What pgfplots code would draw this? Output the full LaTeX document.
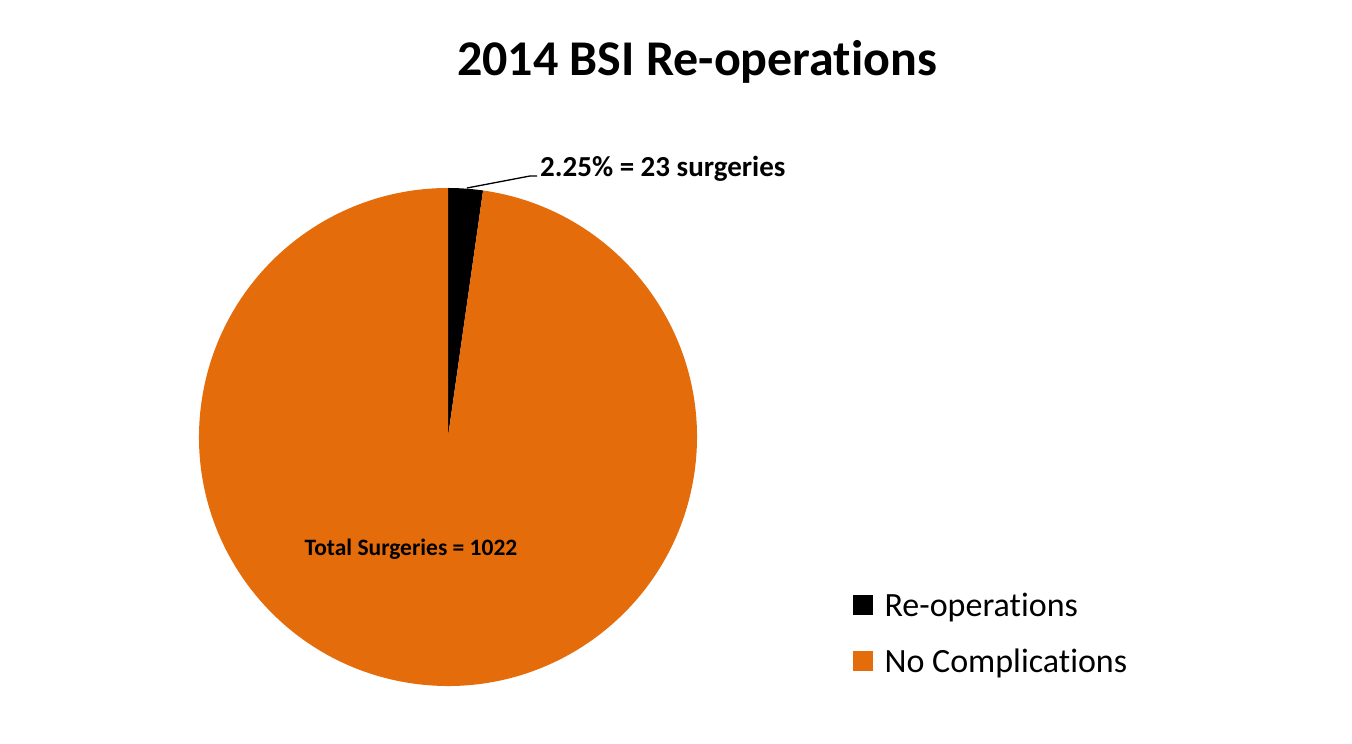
\documentclass[border=0pt]{standalone}
\usepackage{pgfplots}
\usepackage{pgfplotstable}
\pgfplotsset{compat=1.18}
\usepackage{fontspec}
\setmainfont{Carlito}[Ligatures={NoCommon}]
\definecolor{pieorange}{HTML}{E46C0A}
\pgfplotstableread{
label value
Re-operations 23
NoComplications 999
}\piedata
\pgfplotstablegetelem{0}{value}\of\piedata \let\valA\pgfplotsretval
\pgfplotstablegetelem{1}{value}\of\piedata \let\valB\pgfplotsretval
\pgfmathsetmacro{\total}{\valA+\valB}
\pgfmathsetmacro{\angA}{90-360*\valA/\total}
\begin{document}
\begin{tikzpicture}
\begin{axis}[
  scale only axis, width=1352pt, height=744pt,
  xmin=0, xmax=1352, ymin=0, ymax=744,
  hide axis, clip=false,
  legend style={draw=none, fill=none, at={(axis cs:853,167)}, anchor=north west,
    font=\fontsize{34}{40}\selectfont, row sep=0pt, inner sep=0pt,
    nodes={inner sep=0pt, minimum height=56pt},
    /tikz/every odd column/.append style={column sep=12pt}},
  legend cell align=left,
  legend image code/.code={\fill[#1] (0pt,-9.5pt) rectangle (19pt,9.5pt);},
]
\path (axis cs:0,0) rectangle (axis cs:1352,744);
\addlegendimage{black}
\addlegendentry{Re-operations}
\addlegendimage{pieorange}
\addlegendentry{No Complications}
\fill[black] (axis cs:448,307) -- ++(90:249pt) arc[start angle=90, end angle=\angA, radius=249pt] -- cycle;
\fill[pieorange] (axis cs:448,307) -- ++(\angA:249pt) arc[start angle=\angA, end angle=-270, radius=249pt] -- cycle;
\draw[black, line width=1.3pt] (axis cs:467,556) -- (axis cs:530,568) -- (axis cs:537,568);
\node[anchor=west, inner sep=0pt, font=\bfseries\fontsize{29}{34}\selectfont] at (axis cs:540,575) {2.25\% = 23 surgeries};
\node[anchor=center, inner sep=0pt, font=\bfseries\fontsize{23.5}{28}\selectfont] at (axis cs:411,195) {Total Surgeries = 1022};
\node[anchor=center, inner sep=0pt, font=\bfseries\fontsize{50}{58}\selectfont] at (axis cs:697,682) {2014 BSI Re-operations};
\end{axis}
\end{tikzpicture}
\end{document}
